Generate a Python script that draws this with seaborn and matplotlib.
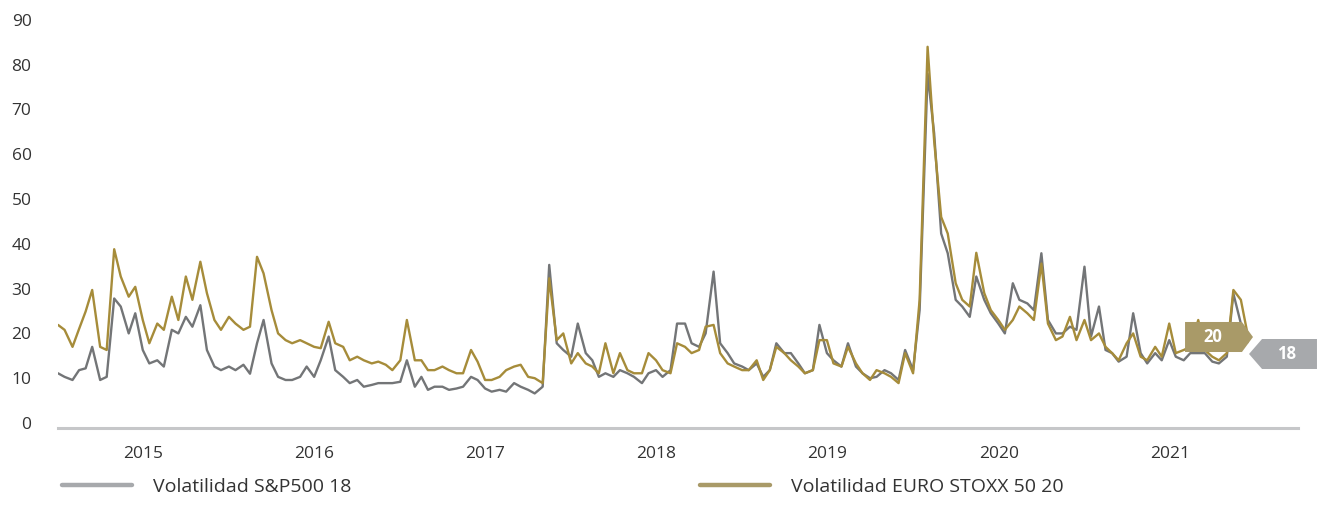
import matplotlib
matplotlib.use("Agg")
import matplotlib.pyplot as plt
import pandas as pd
import seaborn as sns
from matplotlib.lines import Line2D
from matplotlib.patches import Polygon


# semi-monthly readings (1st and 15th), Jan 2015 - Dec 2021
dates = pd.date_range("2015-01-01", periods=168, freq="SMS")

sp500_vol = [
    11.1, 10.3, 9.6, 11.8, 12.2, 17.0, 9.6, 10.3, 27.8, 26.0, 20.0, 24.5,
    16.3, 13.3, 14.0, 12.6, 20.8, 20.0, 23.7, 21.5, 26.3, 16.3, 12.6, 11.8,
    12.6, 11.8, 13.0, 11.0, 17.8, 23.0, 13.3, 10.3, 9.6, 9.6, 10.3, 12.6,
    10.3, 14.0, 19.3, 11.8, 10.3, 8.9, 9.6, 8.1, 8.5, 8.9, 8.9, 8.9,
    9.2, 14.0, 8.1, 10.3, 7.4, 8.1, 8.1, 7.4, 7.7, 8.1, 10.3, 9.6,
    7.7, 7.0, 7.4, 7.0, 8.9, 8.1, 7.4, 6.6, 8.1, 35.3, 17.8, 16.3,
    14.8, 22.2, 15.6, 14.0, 10.3, 11.1, 10.3, 11.8, 11.1, 10.3, 8.9, 11.1,
    11.8, 10.3, 11.8, 22.2, 22.2, 17.8, 17.0, 20.0, 33.8, 17.8, 15.6, 13.3,
    12.6, 11.8, 13.3, 10.3, 11.8, 17.8, 15.6, 15.6, 13.3, 11.1, 11.8, 21.9,
    15.6, 14.0, 12.6, 17.8, 12.6, 11.1, 10.0, 10.3, 11.8, 11.1, 9.6, 16.3,
    11.8, 25.2, 78.0, 64.7, 42.3, 37.9, 27.5, 26.0, 23.7, 32.7, 27.5, 24.5,
    22.2, 20.0, 31.2, 27.5, 26.7, 25.2, 37.9, 23.0, 20.0, 20.0, 21.5, 20.8,
    34.9, 19.3, 26.0, 16.3, 15.6, 13.7, 14.8, 24.5, 15.6, 13.3, 15.6, 14.0,
    18.5, 14.8, 14.0, 15.6, 15.6, 15.6, 13.7, 13.3, 14.8, 28.9, 22.2, 18.0,
]

eurostoxx_vol = [
    21.9, 20.8, 17.0, 21.0, 24.9, 29.7, 17.0, 16.3, 38.8, 32.7, 28.2, 30.4,
    23.0, 17.8, 22.2, 20.8, 28.2, 23.0, 32.7, 27.5, 36.0, 29.0, 23.0, 20.8,
    23.7, 22.2, 20.8, 21.5, 37.1, 33.4, 25.2, 20.0, 18.5, 17.8, 18.5, 17.8,
    17.0, 16.7, 22.6, 17.8, 17.0, 14.0, 14.8, 14.0, 13.3, 13.7, 13.0, 11.8,
    14.0, 23.0, 14.0, 14.0, 11.8, 11.8, 12.6, 11.8, 11.1, 11.1, 16.3, 13.7,
    9.6, 9.6, 10.3, 11.8, 12.6, 13.0, 10.3, 10.0, 8.9, 32.3, 18.5, 20.0,
    13.3, 15.6, 13.3, 12.6, 11.1, 17.8, 11.1, 15.6, 11.8, 11.1, 11.1, 15.6,
    14.0, 11.8, 11.1, 17.8, 17.0, 15.6, 16.3, 21.5, 21.9, 15.6, 13.3, 12.6,
    11.8, 11.8, 14.0, 9.6, 11.8, 17.0, 15.6, 14.0, 12.6, 11.1, 11.8, 18.5,
    18.5, 13.3, 12.6, 17.0, 13.3, 11.1, 9.6, 11.8, 11.1, 10.3, 8.9, 15.6,
    11.1, 27.5, 84.0, 63.0, 46.0, 42.3, 31.2, 27.5, 26.0, 38.0, 29.0, 25.2,
    23.0, 20.8, 23.0, 26.0, 24.5, 23.0, 35.6, 22.2, 18.5, 19.3, 23.7, 18.5,
    23.0, 18.5, 20.0, 17.0, 15.6, 14.0, 17.8, 20.0, 14.8, 14.0, 17.0, 14.8,
    22.2, 15.6, 16.3, 17.0, 23.0, 16.3, 14.8, 14.0, 15.6, 29.7, 27.5, 20.0,
]

years = [2015, 2016, 2017, 2018, 2019, 2020, 2021]
y_ticks = [0, 10, 20, 30, 40, 50, 60, 70, 80, 90]

series_labels = ["Volatilidad S&P500 18", "Volatilidad EURO STOXX 50 20"]
last_values = ["18", "20"]

GRAY_LINE = "#737577"
GOLD_LINE = "#a68c3a"
GRAY_SOFT = "#a7a9ac"
GOLD_SOFT = "#a99a68"
AXIS_COLOR = "#c6c7c9"
TEXT_COLOR = "#333333"


def plot_volatility() -> None:
    sns.set_style("white")
    plt.rcParams["font.family"] = ["Open Sans", "DejaVu Sans"]

    fig = plt.figure(figsize=(13.22, 5.26), dpi=100)
    ax = fig.add_axes([58 / 1322, 1 - 428 / 526, 1240 / 1322, 413 / 526])

    sns.lineplot(x=dates, y=sp500_vol, ax=ax, color=GRAY_LINE, linewidth=1.7)
    sns.lineplot(x=dates, y=eurostoxx_vol, ax=ax, color=GOLD_LINE, linewidth=1.7)

    ax.set_ylim(-1.12, 91.1)
    ax.set_xlim(pd.Timestamp("2015-01-01"), pd.Timestamp("2022-04-02"))
    ax.set_yticks(y_ticks)
    ax.set_yticklabels([str(v) for v in y_ticks])
    ax.set_xlabel("")
    ax.set_ylabel("")

    ax.set_xticks([pd.Timestamp(f"{y}-01-01") for y in years[1:]])
    ax.set_xticklabels([])
    ax.set_xticks([pd.Timestamp(f"{y}-07-02") for y in years], minor=True)
    ax.set_xticklabels([str(y) for y in years], minor=True)

    for side in ["top", "right", "left"]:
        ax.spines[side].set_visible(False)
    ax.spines["bottom"].set_color(AXIS_COLOR)
    ax.spines["bottom"].set_linewidth(2.2)

    ax.tick_params(axis="x", which="major", length=9, width=1.6,
                   color=AXIS_COLOR, direction="out")
    ax.tick_params(axis="x", which="minor", length=0, pad=13,
                   labelsize=12.5, labelcolor=TEXT_COLOR)
    ax.tick_params(axis="y", length=0, pad=19, labelsize=12.5,
                   labelcolor=TEXT_COLOR)

    # end-of-series value tags
    gold_tag = Polygon(
        [(0.9089, 0.2567), (0.9548, 0.2567), (0.9637, 0.2203),
         (0.9548, 0.1840), (0.9089, 0.1840)],
        closed=True, transform=ax.transAxes, facecolor=GOLD_SOFT,
        edgecolor="none", clip_on=False, zorder=5,
    )
    gray_tag = Polygon(
        [(0.9605, 0.1792), (0.9710, 0.2155), (1.0153, 0.2155),
         (1.0153, 0.1429), (0.9710, 0.1429)],
        closed=True, transform=ax.transAxes, facecolor=GRAY_SOFT,
        edgecolor="none", clip_on=False, zorder=5,
    )
    ax.add_patch(gold_tag)
    ax.add_patch(gray_tag)
    ax.text(0.9315, 0.2203, last_values[1], transform=ax.transAxes,
            ha="center", va="center", color="white", fontsize=12,
            fontweight="bold", zorder=6)
    ax.text(0.9905, 0.1792, last_values[0], transform=ax.transAxes,
            ha="center", va="center", color="white", fontsize=12,
            fontweight="bold", zorder=6)

    handles = [
        Line2D([], [], color=GRAY_SOFT, linewidth=3.2, solid_capstyle="round"),
        Line2D([], [], color=GOLD_SOFT, linewidth=3.2, solid_capstyle="round"),
    ]
    anchors = [(62 / 1322, 1 - 487 / 526), (700 / 1322, 1 - 487 / 526)]
    for handle, label, anchor in zip(handles, series_labels, anchors):
        fig.legend(
            [handle], [label], loc="center left", bbox_to_anchor=anchor,
            frameon=False, fontsize=14, handlelength=3.6, handletextpad=1.1,
            borderpad=0, borderaxespad=0, labelcolor=TEXT_COLOR,
        )

    fig.savefig("out.png", dpi=100)


if __name__ == "__main__":
    plot_volatility()
